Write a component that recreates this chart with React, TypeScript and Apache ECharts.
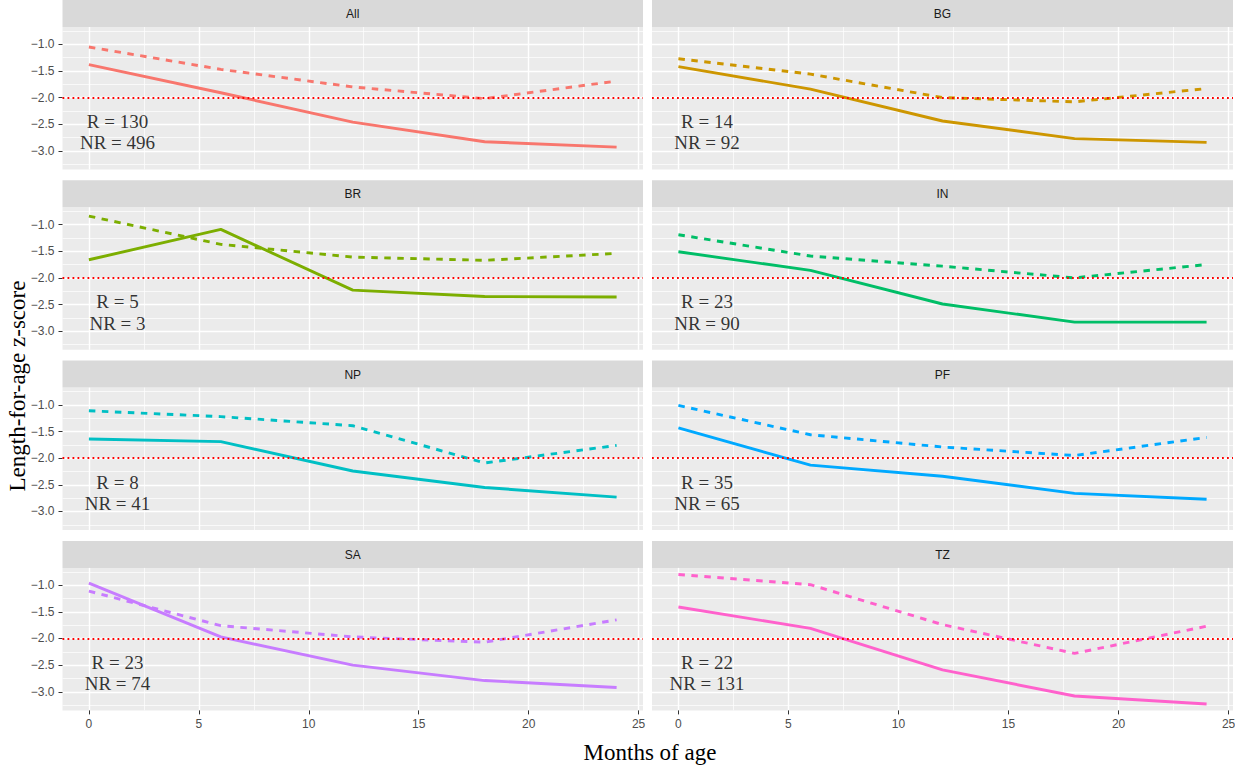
import { useEffect, useRef } from 'react'
import * as echarts from 'echarts'

const panelNames = ['All', 'BG', 'BR', 'IN', 'NP', 'PF', 'SA', 'TZ']
const panelColors = ['#F8766D', '#CD9600', '#7CAE00', '#00BE67', '#00BFC4', '#00A9FF', '#C77CFF', '#FF61CC']
const months = [0, 6, 12, 18, 24]

// solid lines, one row per panel
const solidValues = [
  [-1.38, -1.91, -2.46, -2.83, -2.93],
  [-1.42, -1.84, -2.44, -2.77, -2.84],
  [-1.66, -1.09, -2.23, -2.35, -2.36],
  [-1.51, -1.86, -2.49, -2.83, -2.83],
  [-1.64, -1.69, -2.24, -2.55, -2.73],
  [-1.43, -2.13, -2.34, -2.66, -2.77],
  [-0.96, -1.97, -2.5, -2.79, -2.92],
  [-1.41, -1.81, -2.59, -3.08, -3.23],
]

// dashed lines
const dashedValues = [
  [-1.05, -1.47, -1.8, -2.02, -1.69],
  [-1.27, -1.56, -2.0, -2.08, -1.83],
  [-0.84, -1.37, -1.61, -1.67, -1.54],
  [-1.19, -1.59, -1.78, -2.0, -1.75],
  [-1.11, -1.22, -1.39, -2.09, -1.76],
  [-1.01, -1.56, -1.79, -1.95, -1.61],
  [-1.11, -1.76, -1.97, -2.07, -1.65],
  [-0.8, -0.99, -1.74, -2.28, -1.77],
]

const rCounts = [130, 14, 5, 23, 8, 35, 23, 22]
const nrCounts = [496, 92, 3, 90, 41, 65, 74, 131]

const xTicks = [0, 5, 10, 15, 20, 25]
const yTicks = [-3, -2.5, -2, -1.5, -1]
const cutoff = -2

const labelX = 1.3
const labelYR = -2.45
const labelYNR = -2.85

const SANS = 'Liberation Sans, Arial, sans-serif'
const SERIF = 'Liberation Serif, Times New Roman, serif'

export default function App() {
  const chartRef = useRef<HTMLDivElement>(null)

  useEffect(() => {
    if (!chartRef.current) return
    const chart = echarts.init(chartRef.current, null, { renderer: 'svg' })

    const colLeft = [62.5, 652]
    const colWidth = [580.5, 581]
    const rowPitch = 180.3
    const stripH = 27
    const plotH = 142.5

    const grids: any[] = []
    const xAxes: any[] = []
    const yAxes: any[] = []
    const series: any[] = []
    const graphics: any[] = []

    panelNames.forEach((name, i) => {
      const col = i % 2
      const row = Math.floor(i / 2)
      const top = row * rowPitch
      const bottomRow = row === 3
      const leftCol = col === 0

      grids.push({
        left: colLeft[col],
        top: top + stripH,
        width: colWidth[col],
        height: plotH,
        show: true,
        backgroundColor: '#EBEBEB',
        borderWidth: 0,
        outerBoundsMode: 'none',
      })

      xAxes.push({
        type: 'value',
        gridIndex: i,
        position: 'bottom',
        min: -1.2,
        max: 25.2,
        axisLine: { show: false, onZero: false },
        axisTick: { show: bottomRow, length: 4, customValues: xTicks, lineStyle: { color: '#333333' } },
        axisLabel: {
          show: bottomRow,
          customValues: xTicks,
          color: '#4D4D4D',
          fontSize: 12,
          fontFamily: SANS,
          margin: 8,
        },
        splitLine: { show: true, lineStyle: { color: '#FFFFFF', width: 1.4 } },
        minorTick: { show: false, splitNumber: 2 },
        minorSplitLine: { show: true, lineStyle: { color: '#FFFFFF', width: 0.7 } },
      })

      yAxes.push({
        type: 'value',
        gridIndex: i,
        position: 'left',
        min: -3.35,
        max: -0.675,
        axisLine: { show: false, onZero: false },
        axisTick: { show: leftCol, length: 4, customValues: yTicks, lineStyle: { color: '#333333' } },
        axisLabel: {
          show: leftCol,
          customValues: yTicks,
          color: '#4D4D4D',
          fontSize: 12,
          fontFamily: SANS,
          margin: 8,
          formatter: (v: number) => v.toFixed(1).replace('-', '\u2212'),
        },
        splitLine: { show: true, lineStyle: { color: '#FFFFFF', width: 1.4 } },
        minorTick: { show: false, splitNumber: 2 },
        minorSplitLine: { show: true, lineStyle: { color: '#FFFFFF', width: 0.7 } },
      })

      series.push({
        type: 'line',
        xAxisIndex: i,
        yAxisIndex: i,
        data: months.map((m, j) => [m, solidValues[i][j]]),
        smooth: false,
        showSymbol: false,
        symbol: 'none',
        lineStyle: { color: panelColors[i], width: 2.9, type: 'solid' },
      })

      series.push({
        type: 'line',
        xAxisIndex: i,
        yAxisIndex: i,
        data: months.map((m, j) => [m, dashedValues[i][j]]),
        smooth: false,
        showSymbol: false,
        symbol: 'none',
        lineStyle: { color: panelColors[i], width: 2.9, type: [6.5, 6.5] },
      })

      series.push({
        type: 'scatter',
        xAxisIndex: i,
        yAxisIndex: i,
        symbolSize: 0,
        silent: true,
        data: [
          { name: `R = ${rCounts[i]}`, value: [labelX, labelYR] },
          { name: `NR = ${nrCounts[i]}`, value: [labelX, labelYNR] },
        ],
        label: {
          show: true,
          position: 'inside',
          formatter: (p: any) => p.name,
          color: '#000000',
          fontSize: 19,
          fontFamily: SERIF,
        },
        markLine: {
          silent: true,
          symbol: 'none',
          label: { show: false },
          lineStyle: { color: '#FF0000', width: 1.8, type: [1.8, 3.2] },
          data: [{ yAxis: cutoff }],
        },
      })

      graphics.push({
        type: 'rect',
        shape: { x: colLeft[col], y: top, width: colWidth[col], height: stripH },
        style: { fill: '#D9D9D9' },
        silent: true,
      })
      graphics.push({
        type: 'text',
        x: colLeft[col] + colWidth[col] / 2,
        y: top + stripH / 2 + 0.5,
        silent: true,
        style: {
          text: name,
          align: 'center',
          verticalAlign: 'middle',
          fill: '#1A1A1A',
          font: `12px ${SANS}`,
        },
      })
    })

    graphics.push({
      type: 'text',
      x: 650,
      y: 752,
      silent: true,
      style: {
        text: 'Months of age',
        align: 'center',
        verticalAlign: 'middle',
        fill: '#000000',
        font: `23px ${SERIF}`,
      },
    })
    graphics.push({
      type: 'text',
      x: 17,
      y: 386,
      rotation: Math.PI / 2,
      silent: true,
      style: {
        text: 'Length-for-age z-score',
        align: 'center',
        verticalAlign: 'middle',
        fill: '#000000',
        font: `23px ${SERIF}`,
      },
    })

    chart.setOption({
      animation: false,
      backgroundColor: '#FFFFFF',
      grid: grids,
      xAxis: xAxes,
      yAxis: yAxes,
      series,
      graphic: graphics,
    })

    return () => chart.dispose()
  }, [])

  return (
    <div
      ref={chartRef}
      style={{ position: 'fixed', left: 0, top: 0, width: 1235, height: 767 }}
    />
  )
}
